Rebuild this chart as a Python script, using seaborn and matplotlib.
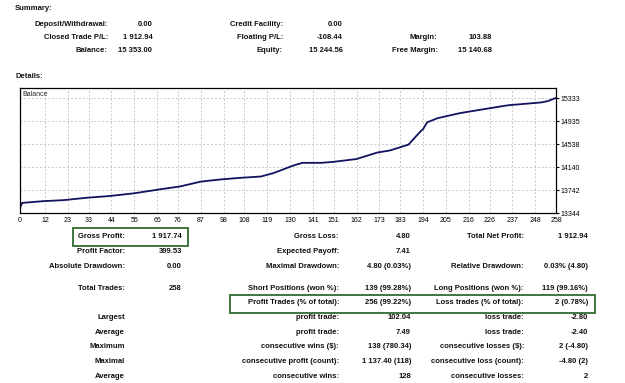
import matplotlib
matplotlib.use("Agg")
import matplotlib.pyplot as plt
import seaborn as sns
import pandas as pd
from matplotlib.patches import Rectangle

# balance curve (trade number, balance)
trade_no = [0, 1, 11, 21, 32, 43, 55, 68, 77, 87, 96, 106, 116, 122, 132, 136,
            145, 151, 162, 172, 178, 187, 190, 193, 194, 196, 201, 212, 225, 235,
            251, 254, 258]
balance = [13430, 13519, 13549, 13567, 13608, 13638, 13686, 13758, 13804, 13888,
           13924, 13954, 13977, 14036, 14173, 14214, 14214, 14232, 14280, 14393,
           14428, 14530, 14650, 14767, 14798, 14917, 14989, 15078, 15155, 15213,
           15262, 15285, 15340]

x_ticks = [0, 12, 23, 33, 44, 55, 66, 76, 87, 98, 108, 119, 130, 141, 151, 162,
           173, 183, 194, 205, 216, 226, 237, 248, 258]
y_ticks = [13344, 13742, 14140, 14538, 14935, 15333]

# summary block: (label, value) per column
sum_col1 = [("Deposit/Withdrawal:", "0.00"), ("Closed Trade P/L:", "1 912.94"),
            ("Balance:", "15 353.00")]
sum_col2 = [("Credit Facility:", "0.00"), ("Floating P/L:", "-108.44"),
            ("Equity:", "15 244.56")]
sum_col3 = [("", ""), ("Margin:", "103.88"), ("Free Margin:", "15 140.68")]

# details block
det_col1 = [("Gross Profit:", "1 917.74"), ("Profit Factor:", "399.53"),
            ("Absolute Drawdown:", "0.00"), ("Total Trades:", "258"), ("", ""),
            ("Largest", ""), ("Average", ""), ("Maximum", ""), ("Maximal", ""),
            ("Average", "")]
det_col2 = [("Gross Loss:", "4.80"), ("Expected Payoff:", "7.41"),
            ("Maximal Drawdown:", "4.80 (0.03%)"),
            ("Short Positions (won %):", "139 (99.28%)"),
            ("Profit Trades (% of total):", "256 (99.22%)"),
            ("profit trade:", "102.04"), ("profit trade:", "7.49"),
            ("consecutive wins ($):", "138 (780.34)"),
            ("consecutive profit (count):", "1 137.40 (118)"),
            ("consecutive wins:", "128")]
det_col3 = [("Total Net Profit:", "1 912.94"), ("", ""),
            ("Relative Drawdown:", "0.03% (4.80)"),
            ("Long Positions (won %):", "119 (99.16%)"),
            ("Loss trades (% of total):", "2 (0.78%)"),
            ("loss trade:", "-2.80"), ("loss trade:", "-2.40"),
            ("consecutive losses ($):", "2 (-4.80)"),
            ("consecutive loss (count):", "-4.80 (2)"),
            ("consecutive losses:", "2")]

W, H = 625, 383
sns.set_style("white")
plt.rcParams["font.family"] = ["Liberation Sans", "DejaVu Sans"]

fig = plt.figure(figsize=(W / 100, H / 100), dpi=100)
fig.patch.set_facecolor("white")


def px(x, y):
    return x / W, 1 - y / H


def put(x, y, s, ha="right", size=5.5, weight="bold"):
    fig.text(*px(x, y), s, ha=ha, va="center", fontsize=size,
             fontweight=weight, color="#111111")


# summary
put(15, 9, "Summary:", ha="left")
rows = [24, 37.7, 51]
for col, (lx, vx) in zip([sum_col1, sum_col2, sum_col3],
                         [(108, 152.5), (283, 343), (437.5, 492)]):
    for (lab, val), y in zip(col, rows):
        put(lx, y, lab)
        put(vx, y, val)
put(15, 77, "Details:", ha="left")

# details
rows = [236.7, 251.7, 266, 288.3, 302.7, 317.3, 332, 346.7, 361.3, 376]
for col, (lx, vx) in zip([det_col1, det_col2, det_col3],
                         [(125, 182), (339, 411), (524, 588)]):
    for (lab, val), y in zip(col, rows):
        put(lx, y, lab)
        put(vx, y, val)

# green highlight boxes
for (x0, y0, x1, y1) in [(72.5, 227.5, 187.5, 245.5), (230, 294.5, 595, 312.5)]:
    fig.patches.append(Rectangle(px(x0, y1), (x1 - x0) / W, (y1 - y0) / H,
                                 transform=fig.transFigure, fill=False,
                                 edgecolor="#2f6b2f", linewidth=1.3))

# balance chart
ax = fig.add_axes([20 / W, 1 - 213 / H, 536 / W, 125 / H])
df = pd.DataFrame({"trade": trade_no, "balance": balance})
sns.lineplot(data=df, x="trade", y="balance", ax=ax, color="#12125e",
             linewidth=1.3)
ax.set_xlim(0, 258)
ax.set_ylim(13344, 15333 + 398 * 0.45)
ax.set_xticks(x_ticks)
ax.set_yticks(y_ticks)
ax.yaxis.tick_right()
ax.tick_params(axis="both", labelsize=5, length=2, pad=1, colors="black")
ax.grid(True, linestyle=(0, (2, 2)), color="#c8c8c8", linewidth=0.7)
ax.set_xlabel("")
ax.set_ylabel("")
for s in ax.spines.values():
    s.set_color("black")
    s.set_linewidth(0.9)
ax.text(0.005, 0.95, "Balance", transform=ax.transAxes, fontsize=5,
        ha="left", va="center")

fig.savefig("out.png", dpi=100, facecolor="white")
